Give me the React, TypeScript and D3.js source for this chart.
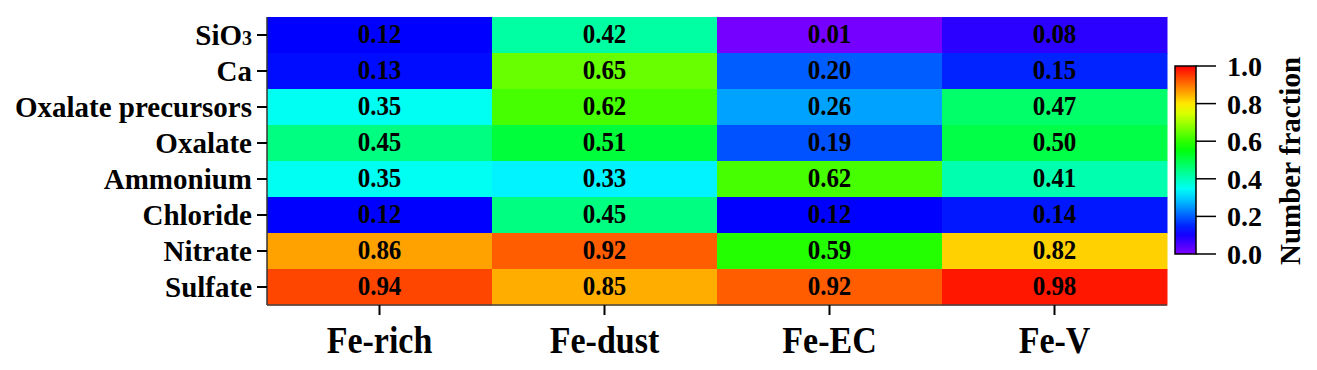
import * as d3 from "d3";

const rows = ["SiO3", "Ca", "Oxalate precursors", "Oxalate", "Ammonium", "Chloride", "Nitrate", "Sulfate"];
const columns = ["Fe-rich", "Fe-dust", "Fe-EC", "Fe-V"];

// values per column, same order as rows
const feRich = [0.12, 0.13, 0.35, 0.45, 0.35, 0.12, 0.86, 0.94];
const feDust = [0.42, 0.65, 0.62, 0.51, 0.33, 0.45, 0.92, 0.85];
const feEC = [0.01, 0.2, 0.26, 0.19, 0.62, 0.12, 0.59, 0.92];
const feV = [0.08, 0.15, 0.47, 0.5, 0.41, 0.14, 0.82, 0.98];

const colorTicks = [0, 0.2, 0.4, 0.6, 0.8, 1.0];

const W = 1317;
const H = 370;
const font = "'Liberation Serif', 'Times New Roman', serif";

const App = () => {
	const series = [feRich, feDust, feEC, feV];
	const cells = columns.flatMap((c, ci) => rows.map((r, ri) => ({col: c, row: r, value: series[ci][ri]})));

	// heatmap scales
	const x = d3.scaleBand().domain(columns).range([267, 1167]);
	const y = d3.scaleBand().domain(rows).range([17, 305]);

	// rainbow-like palette: purple -> blue -> cyan -> green -> yellow -> red
	const color = d3
		.scaleLinear<string>()
		.domain([0, 0.12, 0.34, 0.56, 0.78, 1])
		.range(["#8000ff", "#0000ff", "#00ffff", "#00ff00", "#ffff00", "#ff0000"])
		.interpolate(d3.interpolateRgb);

	// colorbar
	const cbX = 1175;
	const cbW = 21;
	const cb = d3.scaleLinear().domain([0, 1]).range([254, 66]);
	const gradStops = d3.range(0, 1.0001, 0.05);

	return (
		<div style={{position: "absolute", left: 0, top: 0}}>
			<svg width={W} height={H} viewBox={`0 0 ${W} ${H}`} style={{display: "block", background: "#fff"}}>
				<defs>
					<linearGradient id="cbGrad" x1="0" y1="1" x2="0" y2="0">
						{gradStops.map((s) => (
							<stop key={s} offset={s} stopColor={color(s)} />
						))}
					</linearGradient>
				</defs>

				{/* cells */}
				<g>
					{cells.map((d) => (
						<rect
							key={d.col + d.row}
							x={x(d.col)}
							y={y(d.row)}
							width={x.bandwidth() + 0.5}
							height={y.bandwidth() + 0.5}
							fill={color(d.value)}
						/>
					))}
				</g>

				{/* cell values */}
				<g fontFamily={font} fontWeight="bold" fontSize={25} textAnchor="middle" fill="#000">
					{cells.map((d) => (
						<text
							key={d.col + d.row}
							transform={`translate(${x(d.col)! + x.bandwidth() / 2}, ${y(d.row)! + y.bandwidth() / 2 + 8}) scale(1, 1.05)`}
						>
							{d.value.toFixed(2)}
						</text>
					))}
				</g>

				{/* axes lines */}
				<line x1={267} x2={267} y1={17} y2={305} stroke="#333" strokeWidth={1.5} />
				<line x1={267} x2={1167} y1={305} y2={305} stroke="#444" strokeWidth={1.5} />

				{/* y axis */}
				<g fontFamily={font} fontWeight="bold" fontSize={29} textAnchor="end" fill="#000">
					{rows.map((r) => {
						const cy = y(r)! + y.bandwidth() / 2;
						return (
							<g key={r}>
								<line x1={257} x2={267} y1={cy} y2={cy} stroke="#000" strokeWidth={2} />
								{r === "SiO3" ? (
									<text x={252} y={cy + 10}>
										SiO<tspan fontSize={20}>3</tspan>
										<tspan> </tspan>
									</text>
								) : (
									<text x={252} y={cy + 10}>
										{r}
									</text>
								)}
							</g>
						);
					})}
				</g>

				{/* x axis */}
				<g fontFamily={font} fontWeight="bold" fontSize={34} textAnchor="middle" fill="#000">
					{columns.map((c) => {
						const cx = x(c)! + x.bandwidth() / 2;
						return (
							<g key={c}>
								<line x1={cx} x2={cx} y1={305} y2={315} stroke="#000" strokeWidth={2} />
								<text transform={`translate(${cx}, 353) scale(1, 1.12)`}>{c}</text>
							</g>
						);
					})}
				</g>

				{/* colorbar */}
				<rect x={cbX} y={cb(1)} width={cbW} height={cb(0) - cb(1)} fill="url(#cbGrad)" stroke="#000" strokeWidth={1.5} />
				<g fontFamily={font} fontWeight="bold" fontSize={28} fill="#000">
					{colorTicks.map((t) => (
						<g key={t}>
							<line x1={cbX + cbW} x2={cbX + cbW + 20} y1={cb(t)} y2={cb(t)} stroke="#000" strokeWidth={1.5} />
							<text x={1227} y={cb(t) + 10}>
								{t.toFixed(1)}
							</text>
						</g>
					))}
				</g>
				<text
					transform={`translate(1300, ${(cb(0) + cb(1)) / 2 + 1}) rotate(-90)`}
					textAnchor="middle"
					fontFamily={font}
					fontWeight="bold"
					fontSize={29}
					fill="#000"
				>
					Number fraction
				</text>
			</svg>
		</div>
	);
};

export default App;
